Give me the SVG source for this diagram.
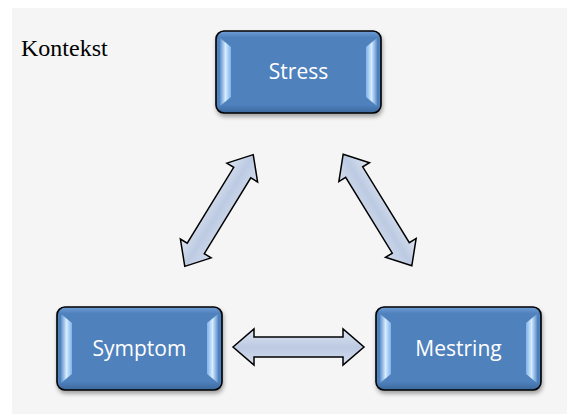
<svg xmlns="http://www.w3.org/2000/svg" width="567" height="414" viewBox="0 0 567 414">
<style>
.box{fill:url(#boxg);stroke:#000;stroke-width:1.6;filter:url(#sh)}
.bev{fill:url(#bevg)}
.bevr{fill:url(#bevgr)}
.lbl{font-family:"Open Sans","Liberation Sans",sans-serif;font-size:21px;fill:#fff;text-anchor:middle}
.arr{fill:url(#arrg);stroke:#000;stroke-width:1.5;stroke-linejoin:miter}
</style>
<defs>
<linearGradient id="boxg" x1="0" y1="0" x2="0" y2="1">
<stop offset="0" stop-color="#6f9ed6"/>
<stop offset="0.08" stop-color="#4f81bd"/>
<stop offset="0.9" stop-color="#4f81bd"/>
<stop offset="1" stop-color="#3b679c"/>
</linearGradient>
<linearGradient id="bevg" x1="0" y1="0" x2="1" y2="0">
<stop offset="0" stop-color="#5d8fcc"/>
<stop offset="0.5" stop-color="#d6ecff"/>
<stop offset="1" stop-color="#7fb2ea"/>
</linearGradient>
<linearGradient id="bevgr" x1="1" y1="0" x2="0" y2="0">
<stop offset="0" stop-color="#5d8fcc"/>
<stop offset="0.5" stop-color="#d6ecff"/>
<stop offset="1" stop-color="#7fb2ea"/>
</linearGradient>
<linearGradient id="arrg" x1="0" y1="0" x2="0" y2="1">
<stop offset="0" stop-color="#dde4f1"/>
<stop offset="0.5" stop-color="#bccae2"/>
<stop offset="1" stop-color="#d3dcec"/>
</linearGradient>
<filter id="sh" x="-10%" y="-10%" width="125%" height="135%">
<feDropShadow dx="1" dy="3" stdDeviation="2" flood-color="#000" flood-opacity="0.35"/>
</filter>
<path id="dblarrow" d="M-65.5,0 L-44.5,-18 L-44.5,-10 L44.5,-10 L44.5,-18 L65.5,0 L44.5,18 L44.5,10 L-44.5,10 L-44.5,18 Z"/>
</defs>
<rect x="0" y="0" width="567" height="414" fill="#fff"/>
<rect x="12" y="8" width="555" height="406" fill="#f5f5f5"/>
<text x="21" y="56" font-family="Liberation Serif,serif" font-size="24" fill="#000">Kontekst</text>
<g id="connectors">
<use href="#dblarrow" class="arr" transform="translate(219,210.5) rotate(-58.5)"/>
<use href="#dblarrow" class="arr" transform="translate(377.5,210) rotate(58.4)"/>
<use href="#dblarrow" class="arr" transform="translate(298.5,347)"/>
</g>
<g id="stress">
<rect class="box" x="216" y="31" width="165" height="82" rx="8"/>
<path class="bev" d="M220,38 L231,47 L231,97 L220,106 Z"/>
<path class="bevr" d="M377,38 L366,47 L366,97 L377,106 Z"/>
<text class="lbl" x="298.5" y="79">Stress</text>
</g>
<g id="symptom">
<rect class="box" x="57" y="307" width="165" height="83" rx="8"/>
<path class="bev" d="M61,314 L72,323 L72,374 L61,383 Z"/>
<path class="bevr" d="M218,314 L207,323 L207,374 L218,383 Z"/>
<text class="lbl" x="139.5" y="356">Symptom</text>
</g>
<g id="mestring">
<rect class="box" x="376" y="307" width="165" height="83" rx="8"/>
<path class="bev" d="M380,314 L391,323 L391,374 L380,383 Z"/>
<path class="bevr" d="M537,314 L526,323 L526,374 L537,383 Z"/>
<text class="lbl" x="458.5" y="356">Mestring</text>
</g>
</svg>
